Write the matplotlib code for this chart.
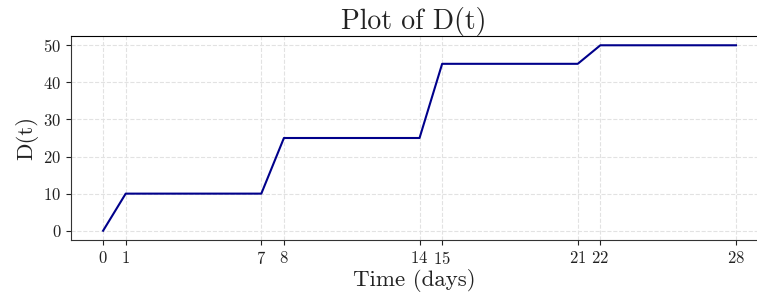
import matplotlib
matplotlib.use("Agg")
import matplotlib.pyplot as plt

# piecewise data
days = [0, 1, 7, 8, 14, 15, 21, 22, 28]
dose = [0, 10, 10, 25, 25, 45, 45, 50, 50]
y_ticks = [0, 10, 20, 30, 40, 50]

plt.rcParams["font.family"] = "serif"
plt.rcParams["font.serif"] = ["cmr10", "DejaVu Serif"]
plt.rcParams["mathtext.fontset"] = "cm"
plt.rcParams["axes.formatter.use_mathtext"] = True

fig = plt.figure(figsize=(7.57, 2.99), dpi=100)
ax = fig.add_axes([71 / 757, 59 / 299, 686 / 757, 204 / 299])

ax.plot(days, dose, color="darkblue", linewidth=1.5)

ax.set_xlim(-1.42, 28.93)
ax.set_ylim(-2.5, 52.5)
ax.set_xticks(days)
ax.set_yticks(y_ticks)
ax.tick_params(labelsize=12, colors="#222222")

ax.set_xlabel("Time (days)", fontsize=16.5, labelpad=2, color="#222222")
ax.set_ylabel("D(t)", fontsize=16.5, color="#222222")
ax.set_title("Plot of D(t)", fontsize=20, pad=4, color="#222222")

ax.grid(True, linestyle="--", color="#e2e2e2", linewidth=0.8)
ax.spines["right"].set_visible(False)
ax.spines["left"].set_color("#333333")
ax.spines["bottom"].set_color("#333333")
ax.spines["top"].set_color("black")

fig.savefig("out.png", dpi=100)
